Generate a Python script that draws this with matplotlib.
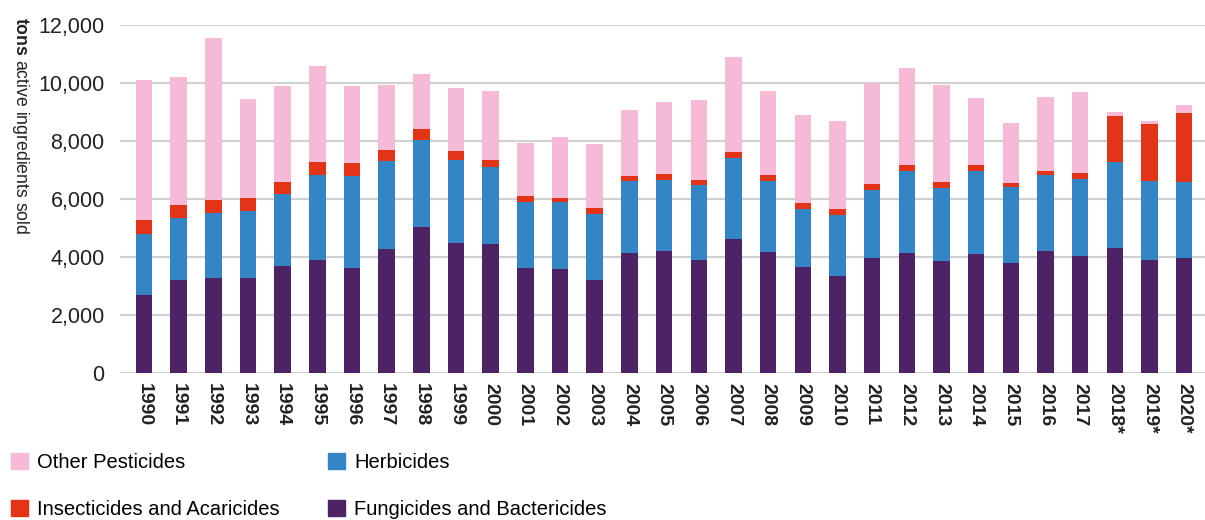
import matplotlib
matplotlib.use("Agg")
import matplotlib.pyplot as plt
from matplotlib.patches import Patch
import numpy as np

plt.rcParams['font.family'] = ['Liberation Sans', 'DejaVu Sans']
plt.rcParams['mathtext.fontset'] = 'custom'
plt.rcParams['mathtext.rm'] = 'Liberation Sans'
plt.rcParams['mathtext.bf'] = 'Liberation Sans:bold'

years = ['1990', '1991', '1992', '1993', '1994', '1995', '1996', '1997', '1998', '1999',
         '2000', '2001', '2002', '2003', '2004', '2005', '2006', '2007', '2008', '2009',
         '2010', '2011', '2012', '2013', '2014', '2015', '2016', '2017', '2018*', '2019*', '2020*']

fungicides = [2680, 3210, 3260, 3290, 3690, 3880, 3610, 4280, 5050, 4500,
              4450, 3610, 3570, 3220, 4140, 4200, 3900, 4620, 4180, 3640,
              3340, 3950, 4130, 3850, 4100, 3790, 4200, 4030, 4300, 3880, 3970]
herbicides = [2120, 2150, 2250, 2310, 2490, 2940, 3180, 3030, 3000, 2830,
              2640, 2270, 2340, 2260, 2490, 2470, 2570, 2810, 2450, 2030,
              2100, 2350, 2830, 2540, 2860, 2610, 2620, 2650, 2970, 2740, 2600]
insecticides = [470, 430, 440, 430, 400, 450, 450, 380, 360, 320,
                250, 220, 140, 200, 160, 190, 180, 190, 200, 200,
                210, 210, 210, 190, 210, 150, 140, 200, 1590, 1960, 2390]
other = [4820, 4430, 5600, 3420, 3310, 3310, 2640, 2240, 1900, 2190,
         2400, 1830, 2080, 2210, 2280, 2480, 2780, 3260, 2900, 3010,
         3050, 3490, 3350, 3340, 2330, 2070, 2550, 2820, 140, 110, 280]

yticks = [0, 2000, 4000, 6000, 8000, 10000, 12000]

c_fung = '#4E2366'
c_herb = '#3385C6'
c_ins = '#E43417'
c_oth = '#F6B9D6'

fig = plt.figure(figsize=(12.05, 5.2), dpi=100)
ax = fig.add_axes([0.0996, 0.2827, 0.9004, 0.6692])

x = np.arange(len(years))
f = np.array(fungicides)
h = np.array(herbicides)
i_ = np.array(insecticides)
o = np.array(other)
w = 0.475
ax.bar(x, f, w, color=c_fung, zorder=3)
ax.bar(x, h, w, bottom=f, color=c_herb, zorder=3)
ax.bar(x, i_, w, bottom=f + h, color=c_ins, zorder=3)
ax.bar(x, o, w, bottom=f + h + i_, color=c_oth, zorder=3)

ax.set_xlim(-0.69, len(years) - 1 + 0.6)
ax.set_ylim(0, 12000)
ax.set_yticks(yticks)
ax.set_yticklabels([f'{v:,}' for v in yticks], fontsize=15.5, color='#222222')
ax.set_xticks(x)
ax.set_xticklabels(years, rotation=-90, fontsize=14, fontweight='bold', color='#222222')
ax.tick_params(axis='both', length=0)
ax.tick_params(axis='y', pad=11)
ax.tick_params(axis='x', pad=7)
ax.yaxis.grid(True, color='#d0d0d0', linewidth=1.5, zorder=0)
ax.set_axisbelow(True)
for s in ax.spines.values():
    s.set_visible(False)

fig.text(0.0166, 0.967, r'$\mathbf{tons}$ active ingredients sold', rotation=-90,
         ha='center', va='top', fontsize=12.7, color='#222222')

handles = [Patch(color=c_oth), Patch(color=c_ins), Patch(color=c_herb), Patch(color=c_fung)]
labels = ['Other Pesticides', 'Insecticides and Acaricides', 'Herbicides', 'Fungicides and Bactericides']
fig.legend(handles, labels, ncol=2, loc='upper left', bbox_to_anchor=(11 / 1205, 1 - 453 / 520),
           frameon=False, fontsize=14.5, handlelength=0.85, handleheight=0.8,
           handletextpad=0.45, columnspacing=2.4, labelspacing=1.39, borderpad=0,
           borderaxespad=0)

fig.savefig('out.png', dpi=100)
